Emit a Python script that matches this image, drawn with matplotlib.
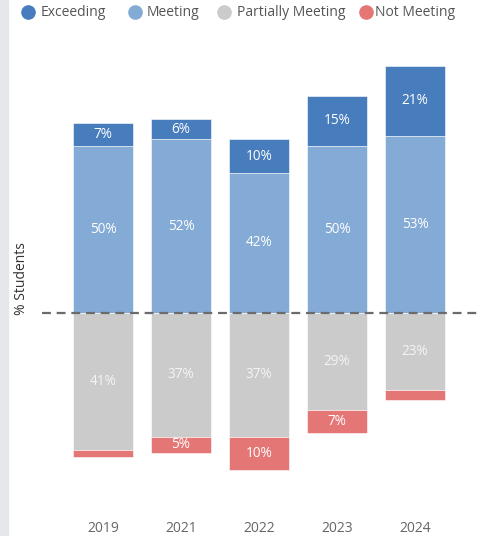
import matplotlib.pyplot as plt
from matplotlib.lines import Line2D
from matplotlib.patches import Rectangle
import numpy as np

plt.rcParams['font.family'] = ['Open Sans', 'DejaVu Sans']

# data
years = ["2019", "2021", "2022", "2023", "2024"]
exceeding = [7, 6, 10, 15, 21]
meeting = [50, 52, 42, 50, 53]
partially = [41, 37, 37, 29, 23]
not_meeting = [2, 5, 10, 7, 3]

series_names = ["Exceeding", "Meeting", "Partially Meeting", "Not Meeting"]
colors = ["#477dbd", "#84aad6", "#cbcbcb", "#e57676"]

W, H = 481, 536
fig = plt.figure(figsize=(W / 100, H / 100), dpi=100)

# axes placed in pixel terms
ax_top, ax_bot, ax_left = 40, 515, 42
ax = fig.add_axes([ax_left / W, 1 - ax_bot / H, 1 - ax_left / W, (ax_bot - ax_top) / H])

px_per_pct = 3.34
base_px = 313
ax.set_ylim(-(ax_bot - base_px) / px_per_pct, (base_px - ax_top) / px_per_pct)
ax.set_xlim((ax_left - 103) / 78, (W - 103) / 78)

x = np.arange(len(years))
bw = 60 / 78


def label(bars, vals, color, min_val=4):
    for b, v in zip(bars, vals):
        if v < min_val:
            continue
        ax.text(b.get_x() + b.get_width() / 2, b.get_y() + b.get_height() / 2,
                f"{v}%", ha="center", va="center", color=color, fontsize=9.8)


ex = np.array(exceeding)
me = np.array(meeting)
pa = np.array(partially)
nm = np.array(not_meeting)

b_me = ax.bar(x, me, bw, bottom=0, color=colors[1], edgecolor="white", linewidth=0.4)
b_ex = ax.bar(x, ex, bw, bottom=me, color=colors[0], edgecolor="white", linewidth=0.4)
b_pa = ax.bar(x, -pa, bw, bottom=0, color=colors[2], edgecolor="white", linewidth=0.4)
b_nm = ax.bar(x, -nm, bw, bottom=-pa, color=colors[3], edgecolor="white", linewidth=0.4)

label(b_me, meeting, "white")
label(b_ex, exceeding, "white")
label(b_pa, partially, "#f4f4f4")
label(b_nm, not_meeting, "white")

ax.axhline(0, color="#6b6b6b", linewidth=1.6, linestyle=(0, (4, 2.6)), zorder=5)

ax.set_xticks(x)
ax.set_xticklabels(years, fontsize=10, color="#666666")
ax.tick_params(axis="x", length=0, pad=4)
ax.set_yticks([])
for s in ax.spines.values():
    s.set_visible(False)

fig.text(22 / W, 1 - 279 / H, "% Students", rotation=90, ha="center", va="center",
         fontsize=10, color="#333333")

# left panel strip
fig.add_artist(Rectangle((0, 0), 8 / W, 1, transform=fig.transFigure,
                         color="#e6e7ea", zorder=0))

# legend
leg_circles = [28, 135, 224, 366]
leg_texts = [41, 147, 237, 375]
ly = 1 - 12 / H
for name, c, cx, tx in zip(series_names, colors, leg_circles, leg_texts):
    fig.add_artist(Line2D([cx / W], [ly], marker="o", markersize=9.5, color=c,
                          linestyle="none", transform=fig.transFigure))
    fig.text(tx / W, ly, name, ha="left", va="center", fontsize=10, color="#555555")

fig.savefig("out.png", dpi=100)
